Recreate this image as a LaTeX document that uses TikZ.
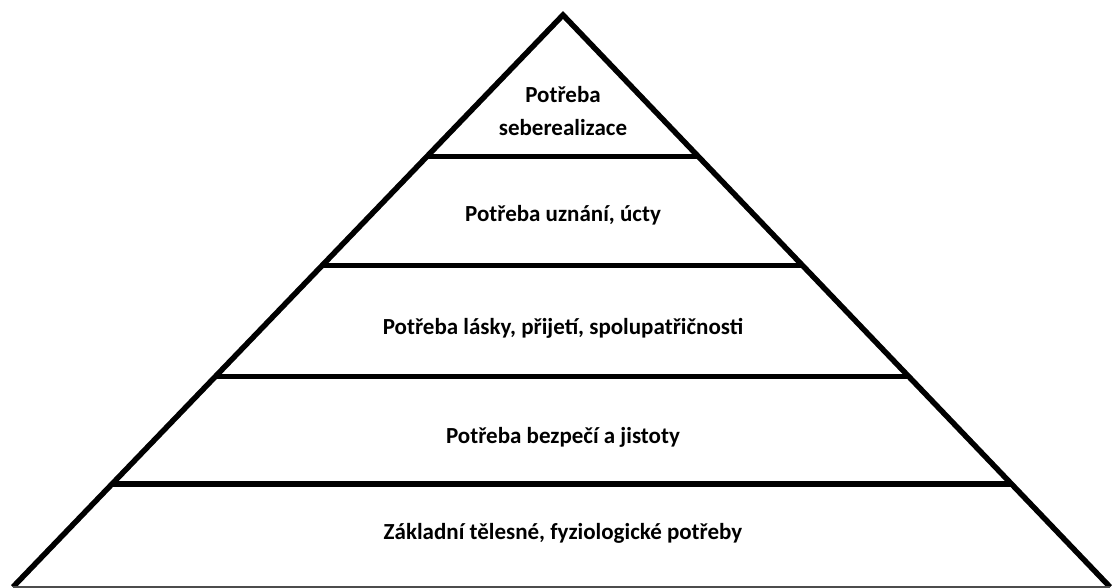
\documentclass[tikz,border=0pt]{standalone}
\usepackage{fontspec}
\setmainfont{Carlito}
\usetikzlibrary{calc}
\begin{document}
\begin{tikzpicture}[x=1pt,y=-1pt,line width=5.5pt,line join=miter]
		\tikzstyle{level}=[font=\bfseries\fontsize{23}{33}\selectfont,text=black,align=center,inner sep=0pt]
		\useasboundingbox (0,0) rectangle (1112,588);
		
		\coordinate (top) at (563,15);
		\coordinate (bl) at (13,587);
		\coordinate (br) at (1110,587);
		\coordinate (l1) at ($(top)!0.247!(bl)$);
		\coordinate (r1) at ($(top)!0.247!(br)$);
		\coordinate (l2) at ($(top)!0.438!(bl)$);
		\coordinate (r2) at ($(top)!0.438!(br)$);
		\coordinate (l3) at ($(top)!0.632!(bl)$);
		\coordinate (r3) at ($(top)!0.632!(br)$);
		\coordinate (l4) at ($(top)!0.820!(bl)$);
		\coordinate (r4) at ($(top)!0.820!(br)$);
		
		\node[level] (self) at (563,111) {Potřeba\\seberealizace};
		\node[level] (esteem) at (563,215) {Potřeba uznání, úcty};
		\node[level] (love) at (563,328) {Potřeba lásky, přijetí, spolupatřičnosti};
		\node[level] (safety) at (563,437) {Potřeba bezpečí a jistoty};
		\node[level] (body) at (563,533) {Základní tělesné, fyziologické potřeby};
		
		\draw (bl) -- (top) -- (br);
		\draw (l1) -- (r1);
		\draw (l2) -- (r2);
		\draw (l3) -- (r3);
		\draw (l4) -- (r4);
		\draw [line width=1.5pt,gray!60!black](bl) -- (br);
	\end{tikzpicture}
\end{document}
